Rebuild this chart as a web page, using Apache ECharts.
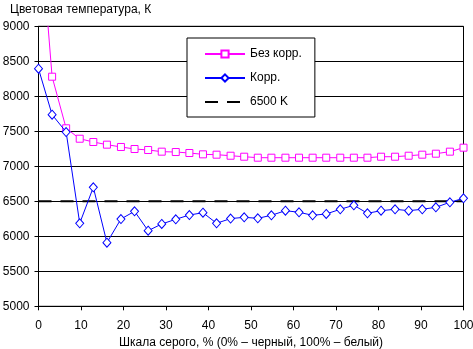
<!DOCTYPE html>
<html>
<head>
<meta charset="utf-8">
<script src="https://cdn.jsdelivr.net/npm/echarts@6/dist/echarts.min.js"></script>
<style>html,body{margin:0;padding:0;background:#fff;}#c{width:473px;height:349px;}</style>
</head>
<body>
<div id="c"></div>
<script>
var chartTitle = 'Цветовая температура, К';
var xAxisTitle = 'Шкала серого, % (0% – черный, 100% – белый)';
var seriesNames = ['Без корр.', 'Корр.', '6500 K'];
var grayLevels = [0, 3.2, 6.5, 9.7, 12.9, 16.1, 19.4, 22.6, 25.8, 29.0, 32.3, 35.5, 38.7, 41.9, 45.2, 48.4,
  51.6, 54.8, 58.1, 61.3, 64.5, 67.7, 71.0, 74.2, 77.4, 80.6, 83.9, 87.1, 90.3, 93.5, 96.8, 100];
var noCorr = [10700, 8280, 7543, 7394, 7347, 7309, 7276, 7247, 7233, 7209, 7204, 7190, 7171, 7166, 7151, 7137,
  7123, 7123, 7123, 7123, 7123, 7123, 7123, 7123, 7123, 7137, 7137, 7151, 7166, 7180, 7209, 7266];
var corr = [8394, 7737, 7490, 6186, 6700, 5909, 6247, 6357, 6080, 6176, 6243, 6304, 6337, 6186, 6253, 6271,
  6257, 6300, 6366, 6343, 6300, 6319, 6386, 6443, 6329, 6366, 6386, 6366, 6386, 6414, 6486, 6543];
var refX = [0, 100];
var refY = [6500, 6500];

function pairs(xs, ys) { return xs.map(function (x, i) { return [x, ys[i]]; }); }

var font = 'Liberation Sans, Arial, sans-serif';
var chart = echarts.init(document.getElementById('c'), null, { renderer: 'canvas' });
chart.setOption({
  animation: false,
  backgroundColor: '#fff',
  textStyle: { fontFamily: font, color: '#000' },
  title: {
    text: chartTitle, left: 5, top: -1,
    textStyle: { fontFamily: font, fontSize: 12, fontWeight: 'normal', color: '#000' }
  },
  legend: {
    left: 187, top: 38, orient: 'vertical',
    padding: [10, 13, 9, 17],
    itemWidth: 40, itemHeight: 9, itemGap: 12,
    backgroundColor: '#fff', borderColor: '#000', borderWidth: 1,
    textStyle: { fontFamily: font, fontSize: 12, color: '#000' },
    data: [
      { name: seriesNames[0] },
      { name: seriesNames[1] },
      { name: seriesNames[2], itemStyle: { opacity: 0 } }
    ]
  },
  grid: {
    left: 38.5, right: 9.5, top: 26.3, bottom: 42.7,
    outerBoundsMode: 'none',
    show: true, borderColor: '#000', borderWidth: 1, backgroundColor: '#fff'
  },
  xAxis: {
    type: 'value', min: 0, max: 100, interval: 10,
    name: xAxisTitle, nameLocation: 'middle', nameGap: 30,
    nameTextStyle: { fontFamily: font, fontSize: 12, color: '#000' },
    axisLine: { lineStyle: { color: '#000', width: 1 } },
    axisTick: { show: true, length: 4, lineStyle: { color: '#000' } },
    axisLabel: { fontFamily: font, fontSize: 12, color: '#000', margin: 13 },
    splitLine: { show: false }
  },
  yAxis: {
    type: 'value', min: 5000, max: 9000, interval: 500,
    axisLine: { show: true, lineStyle: { color: '#000', width: 1 } },
    axisTick: { show: true, length: 4, lineStyle: { color: '#000' } },
    axisLabel: { fontFamily: font, fontSize: 12, color: '#000', margin: 9,
      formatter: function (v) { return String(v); } },
    splitLine: { show: true, lineStyle: { color: '#000', width: 1 } }
  },
  series: [
    {
      name: seriesNames[0], type: 'line', data: pairs(grayLevels, noCorr),
      symbol: 'rect', symbolSize: 7, clip: true,
      lineStyle: { color: '#FF00FF', width: 1 },
      itemStyle: { color: '#fff', borderColor: '#FF00FF', borderWidth: 1 },
      z: 3
    },
    {
      name: seriesNames[1], type: 'line', data: pairs(grayLevels, corr),
      symbol: 'diamond', symbolSize: [8, 9], clip: true,
      lineStyle: { color: '#0000FF', width: 1 },
      itemStyle: { color: '#fff', borderColor: '#0000FF', borderWidth: 1 },
      z: 4
    },
    {
      name: seriesNames[2], type: 'line', data: pairs(refX, refY),
      symbol: 'none',
      lineStyle: { color: '#000', width: 2, type: [13, 9] },
      itemStyle: { color: '#000' },
      z: 2
    }
  ]
});
</script>
</body>
</html>
